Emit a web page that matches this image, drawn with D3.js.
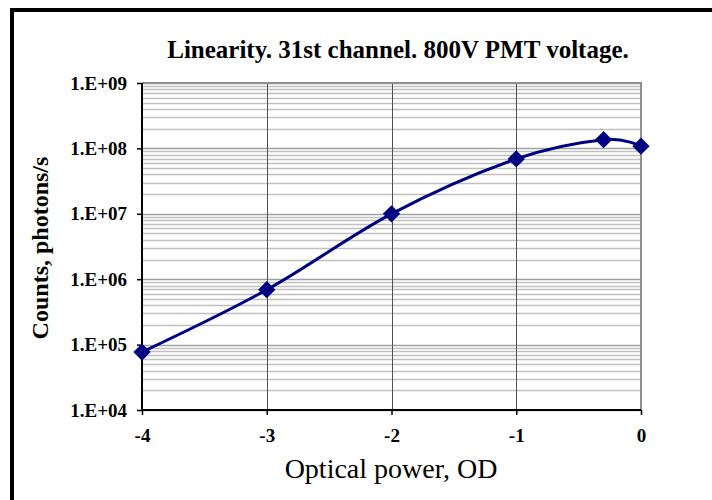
<!DOCTYPE html>
<html>
<head>
<meta charset="utf-8">
<script src="https://cdn.jsdelivr.net/npm/d3@7"></script>
<style>
  html, body { margin: 0; padding: 0; background: #fff; }
  svg { display: block; }
  text { font-family: "Liberation Serif", "Times New Roman", serif; }
</style>
</head>
<body>
<svg id="chart" width="712" height="500"></svg>
<script>
// Optical density steps and measured count rates
const opticalDensity = [-4, -3, -2, -1, -0.3, 0];
const countRates = [7.7e4, 6.9e5, 1.0e7, 6.9e7, 1.36e8, 1.08e8];
const xTickValues = [-4, -3, -2, -1, 0];
const xTickLabels = ["-4", "-3", "-2", "-1", "0"];
const yTickValues = [1e4, 1e5, 1e6, 1e7, 1e8, 1e9];
const yTickLabels = ["1.E+04", "1.E+05", "1.E+06", "1.E+07", "1.E+08", "1.E+09"];

const svg = d3.select("#chart");
const W = 712, H = 500;
const plot = { left: 142, right: 641, top: 83, bottom: 410 };

// outer chart frame
svg.append("rect")
  .attr("x", 12).attr("y", 10)
  .attr("width", W + 20).attr("height", H + 20)
  .attr("fill", "#fff").attr("stroke", "#000").attr("stroke-width", 4);

const x = d3.scaleLinear().domain([-4, 0]).range([plot.left, plot.right]);
const y = d3.scaleLog().domain([1e4, 1e9]).range([plot.bottom, plot.top]);

// minor horizontal gridlines (2..9 in each decade)
const minor = [];
for (let e = 4; e < 9; e++) for (let m = 2; m <= 9; m++) minor.push(m * Math.pow(10, e));
svg.append("g").selectAll("line").data(minor).join("line")
  .attr("x1", plot.left).attr("x2", plot.right)
  .attr("y1", d => Math.round(y(d)) + 0.5).attr("y2", d => Math.round(y(d)) + 0.5)
  .attr("stroke", "#c0c0c0").attr("stroke-width", 1.5);

// major horizontal gridlines
svg.append("g").selectAll("line").data(yTickValues).join("line")
  .attr("x1", plot.left).attr("x2", plot.right)
  .attr("y1", d => Math.round(y(d)) + 0.5).attr("y2", d => Math.round(y(d)) + 0.5)
  .attr("stroke", "#a0a0a0").attr("stroke-width", 1.5);

// vertical gridlines
svg.append("g").selectAll("line").data(xTickValues).join("line")
  .attr("x1", d => Math.round(x(d)) + 0.5).attr("x2", d => Math.round(x(d)) + 0.5)
  .attr("y1", plot.top).attr("y2", plot.bottom)
  .attr("stroke", "#505050").attr("stroke-width", 1);

// plot area border (top and right)
svg.append("path")
  .attr("d", `M${plot.left},${plot.top}H${plot.right}V${plot.bottom}`)
  .attr("fill", "none").attr("stroke", "#909090").attr("stroke-width", 2);

// axes
const yAxis = d3.axisLeft(y).tickValues(yTickValues)
  .tickFormat((d, i) => yTickLabels[i]).tickSize(5).tickPadding(10);
const gy = svg.append("g").attr("transform", `translate(${plot.left},0)`).call(yAxis);
const xAxis = d3.axisBottom(x).tickValues(xTickValues)
  .tickFormat((d, i) => xTickLabels[i]).tickSize(5).tickPadding(14);
const gx = svg.append("g").attr("transform", `translate(0,${plot.bottom})`).call(xAxis);

[gx, gy].forEach(g => {
  g.select(".domain").attr("stroke", "#000").attr("stroke-width", 2);
  g.selectAll(".tick line").attr("stroke", "#000").attr("stroke-width", 1.5);
  g.selectAll("text")
    .attr("fill", "#000")
    .style("font-family", "'Liberation Serif', 'Times New Roman', serif")
    .style("font-weight", "bold")
    .style("font-size", "19px");
});
gx.select(".domain").attr("d", `M${plot.left},0H${plot.right}`);
gy.select(".domain").attr("d", `M0,${plot.top}V${plot.bottom}`);

// smoothed series line
const line = d3.line()
  .x((d, i) => x(opticalDensity[i]))
  .y(d => y(d))
  .curve(d3.curveCardinal.tension(0));
svg.append("path")
  .datum(countRates)
  .attr("d", line)
  .attr("fill", "none").attr("stroke", "#000080").attr("stroke-width", 3);

// diamond markers
const diamond = d3.symbol().type(d3.symbolDiamond2).size(190);
svg.append("g").selectAll("path").data(countRates).join("path")
  .attr("d", diamond)
  .attr("transform", (d, i) => `translate(${x(opticalDensity[i])},${y(d)})`)
  .attr("fill", "#000080");

// titles
svg.append("text")
  .attr("x", 398).attr("y", 58)
  .attr("text-anchor", "middle")
  .style("font-weight", "bold").style("font-size", "25px")
  .text("Linearity. 31st channel. 800V PMT voltage.");

svg.append("text")
  .attr("transform", "translate(48,248) rotate(-90)")
  .attr("text-anchor", "middle")
  .style("font-weight", "bold").style("font-size", "24px")
  .text("Counts, photons/s");

svg.append("text")
  .attr("x", 391).attr("y", 478)
  .attr("text-anchor", "middle")
  .style("font-size", "28px")
  .text("Optical power, OD");
</script>
</body>
</html>
